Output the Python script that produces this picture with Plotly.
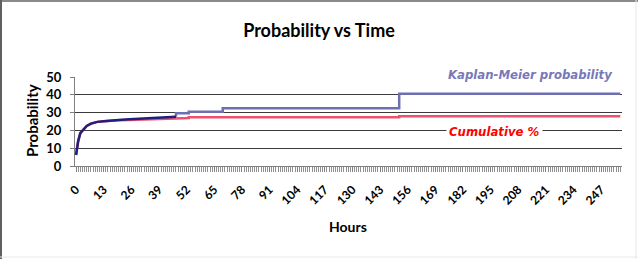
import plotly.graph_objects as go

# ---- data ----
hours_km = [0, 1, 2, 3, 5, 7, 10, 13, 16, 20, 25, 30, 35, 40, 47, 47, 53, 53, 69, 69, 152, 152, 256]
km_prob = [6.2, 14.0, 18.5, 20.0, 22.5, 23.8, 24.8, 25.2, 25.6, 25.9, 26.2, 26.6, 27.0, 27.3, 27.7,
           29.6, 29.6, 30.5, 30.5, 32.4, 32.4, 40.6, 40.6]
hours_cum = [0, 1, 2, 3, 5, 7, 10, 13, 16, 20, 25, 30, 35, 40, 53, 53, 152, 152, 256]
cum_pct = [6.2, 14.0, 18.5, 20.0, 22.5, 23.8, 24.8, 25.2, 25.5, 25.7, 25.9, 26.1, 26.4, 26.7, 26.9,
           27.4, 27.4, 27.9, 27.9]
x_tick_vals = list(range(0, 257, 13))
y_tick_vals = [0, 10, 20, 30, 40, 50]

FONT = "Lato"
LEG_FONT = "DejaVu Sans Condensed"
split = 15  # where the KM line stops overlapping the cumulative line

fig = go.Figure()
fig.add_trace(go.Scatter(x=hours_cum, y=cum_pct, mode="lines",
                         line=dict(color="#F0506E", width=2.5), name="Cumulative %"))
fig.add_trace(go.Scatter(x=hours_km[split - 1:], y=km_prob[split - 1:], mode="lines",
                         line=dict(color="#6E6EB2", width=2.5), name="Kaplan-Meier probability"))
fig.add_trace(go.Scatter(x=hours_km[:split], y=km_prob[:split], mode="lines",
                         line=dict(color="#1F1F7C", width=2.5), showlegend=False))

L, R, T, B = 75, 16, 77, 93
W, H = 638, 259
pw, ph = W - L - R, H - T - B

def px(x):
    return (x - L) / pw

def py(y):
    return (H - B - y) / ph

fig.update_layout(
    width=W, height=H, autosize=False,
    margin=dict(l=L, r=R, t=T, b=B),
    paper_bgcolor="white", plot_bgcolor="white",
    showlegend=False,
    title=dict(text="<b>Probability vs Time</b>", x=319 / W, xanchor="center",
               y=1 - 31 / H, yanchor="middle",
               font=dict(family=FONT, size=18, color="black")),
    xaxis=dict(range=[-0.5, 256.8], tickmode="array", tickvals=x_tick_vals,
               ticktext=[str(v) for v in x_tick_vals], tickangle=-45,
               ticks="outside", ticklen=5, tickcolor="#808080",
               minor=dict(dtick=1, tick0=0, ticks="outside", ticklen=5, tickcolor="#909090",
                          showgrid=False),
               showline=True, linecolor="#808080", linewidth=1,
               showgrid=False, zeroline=False, ticklabelstandoff=6,
               tickfont=dict(family=FONT, size=12, color="black", weight="bold")),
    yaxis=dict(range=[0, 50], tickvals=y_tick_vals, ticks="outside", ticklen=4,
               tickcolor="#808080", showline=True, linecolor="#808080", linewidth=1,
               showgrid=True, gridcolor="#3a3a3a", gridwidth=1, zeroline=False,
               ticklabelstandoff=6,
               tickfont=dict(family=FONT, size=13, color="black", weight="bold")),
    annotations=[
        dict(text="<b>Probability</b>", textangle=-90, x=px(32), y=py(121), xref="paper",
             yref="paper", showarrow=False, xanchor="center", yanchor="middle",
             font=dict(family=FONT, size=15, color="black")),
        dict(text="<b>Hours</b>", x=px(348), y=py(226), xref="paper", yref="paper",
             showarrow=False, xanchor="center", yanchor="middle",
             font=dict(family=FONT, size=14, color="black")),
        dict(text="<b><i>Kaplan-Meier probability</i></b>", x=px(530), y=py(74),
             xref="paper", yref="paper", showarrow=False, xanchor="center", yanchor="middle",
             bgcolor="white", borderpad=1,
             font=dict(family=LEG_FONT, size=13, color="#7878B8")),
        dict(text="<b><i>Cumulative %</i></b>", x=px(494), y=py(131),
             xref="paper", yref="paper", showarrow=False, xanchor="center", yanchor="middle",
             bgcolor="white", borderpad=2,
             font=dict(family=LEG_FONT, size=13, color="#FF0000")),
    ],
    shapes=[
        dict(type="line", xref="paper", yref="paper", x0=px(0), x1=px(W), y0=py(1), y1=py(1),
             line=dict(color="#8a8a8a", width=2)),
        dict(type="line", xref="paper", yref="paper", x0=px(1), x1=px(1), y0=py(0), y1=py(H),
             line=dict(color="#606060", width=2)),
        dict(type="line", xref="paper", yref="paper", x0=px(636), x1=px(636), y0=py(0), y1=py(H),
             line=dict(color="#e8e8e8", width=1)),
        dict(type="line", xref="paper", yref="paper", x0=px(0), x1=px(W), y0=py(257), y1=py(257),
             line=dict(color="#e8e8e8", width=1)),
    ],
)

fig.write_html("out.html")
